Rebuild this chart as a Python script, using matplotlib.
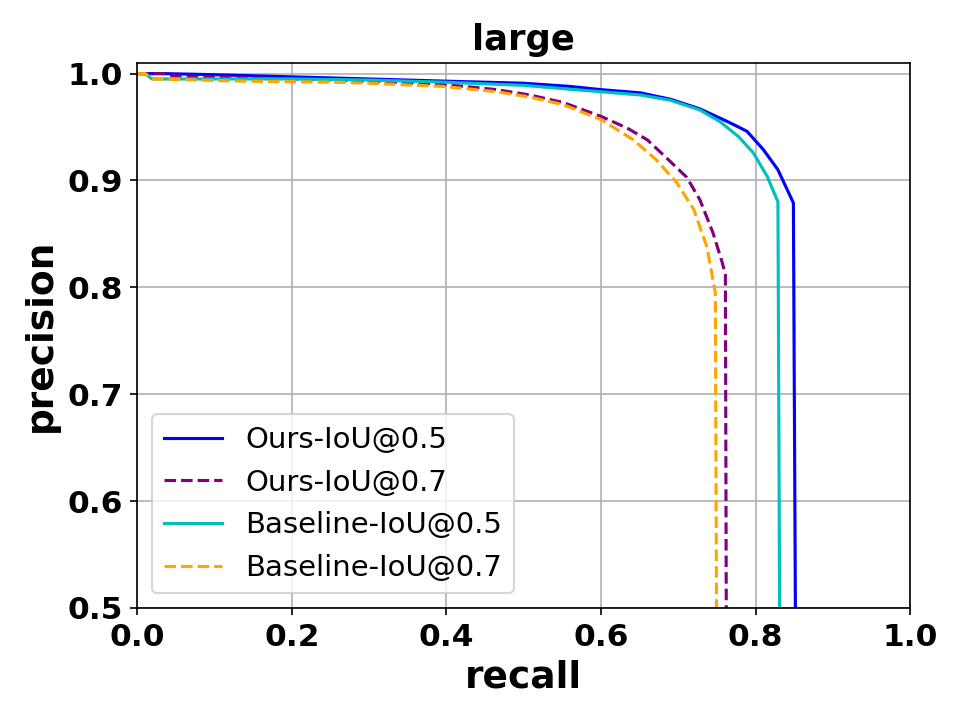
import matplotlib
matplotlib.use('Agg')
import matplotlib.pyplot as plt
import numpy as np

# precision-recall curves
ours05_recall = [0.0, 0.034, 0.10, 0.198, 0.30, 0.396, 0.50, 0.56, 0.60, 0.651,
                 0.690, 0.728, 0.767, 0.789, 0.810, 0.829, 0.849, 0.855]
ours05_prec = [1.0, 1.0, 0.999, 0.997, 0.995, 0.993, 0.991, 0.988, 0.985, 0.982,
               0.976, 0.967, 0.954, 0.946, 0.929, 0.910, 0.879, 0.0]

ours07_recall = [0.0, 0.034, 0.045, 0.10, 0.20, 0.30, 0.396, 0.465, 0.508, 0.551,
                 0.60, 0.634, 0.660, 0.685, 0.711, 0.728, 0.745, 0.757, 0.761, 0.764]
ours07_prec = [1.0, 1.0, 0.998, 0.997, 0.995, 0.993, 0.990, 0.985, 0.980, 0.973,
               0.960, 0.949, 0.938, 0.921, 0.903, 0.882, 0.851, 0.823, 0.812, 0.0]

base05_recall = [0.0, 0.01, 0.019, 0.10, 0.198, 0.30, 0.396, 0.50, 0.60, 0.651,
                 0.690, 0.728, 0.754, 0.778, 0.797, 0.815, 0.829, 0.834]
base05_prec = [1.0, 1.0, 0.995, 0.995, 0.995, 0.994, 0.992, 0.989, 0.983, 0.980,
               0.975, 0.966, 0.955, 0.941, 0.926, 0.904, 0.880, 0.0]

base07_recall = [0.0, 0.01, 0.019, 0.133, 0.25, 0.30, 0.396, 0.465, 0.508, 0.551,
                 0.60, 0.642, 0.672, 0.698, 0.720, 0.737, 0.748, 0.752]
base07_prec = [1.0, 1.0, 0.995, 0.993, 0.992, 0.991, 0.988, 0.983, 0.978, 0.971,
               0.957, 0.938, 0.919, 0.898, 0.873, 0.838, 0.795, 0.0]

fig = plt.figure(figsize=(6.4, 4.8), dpi=150)
ax = fig.add_axes([0.143, 0.1556, 0.805, 0.757])

ax.plot(ours05_recall, ours05_prec, '-', color='blue', linewidth=1.5,
        label='Ours-IoU@0.5')
ax.plot(ours07_recall, ours07_prec, '--', color='purple', linewidth=1.5,
        label='Ours-IoU@0.7')
ax.plot(base05_recall, base05_prec, '-', color='c', linewidth=1.5,
        label='Baseline-IoU@0.5')
ax.plot(base07_recall, base07_prec, '--', color='orange', linewidth=1.5,
        label='Baseline-IoU@0.7')

ax.set_xlim(0.0, 1.0)
ax.set_ylim(0.5, 1.01)
ax.set_xticks(np.arange(0, 1.01, 0.2))
ax.set_yticks(np.arange(0.5, 1.01, 0.1))
ax.grid(True)

for lbl in ax.get_xticklabels() + ax.get_yticklabels():
    lbl.set_fontweight('bold')
    lbl.set_fontsize(15)

ax.set_xlabel('recall', fontsize=18, fontweight='bold')
ax.set_ylabel('precision', fontsize=18, fontweight='bold')
ax.set_title('large', fontsize=17, fontweight='bold')
ax.legend(loc='lower left', fontsize=14)

plt.savefig('out.png', dpi=150, facecolor='white')
